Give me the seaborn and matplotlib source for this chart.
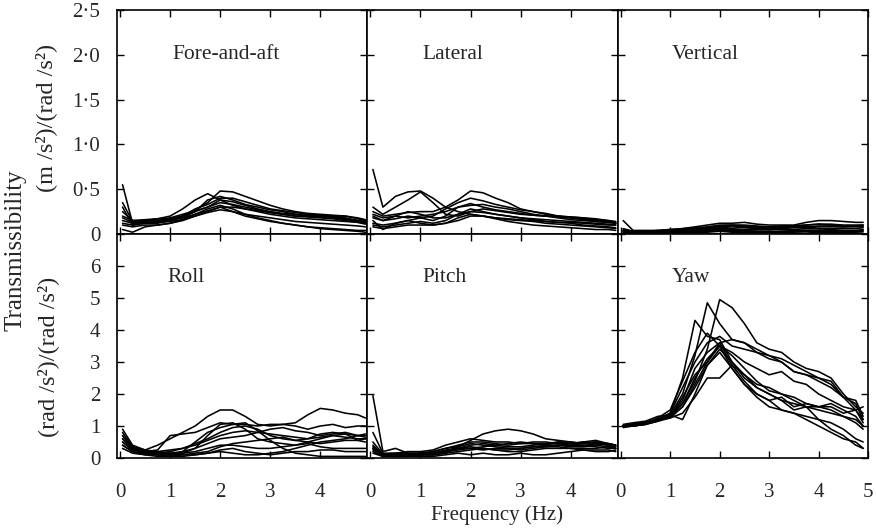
'''
Transmissibility of seat motion in six axes (12 subjects each), 2 x 3 panel figure
'''
import pandas as pd
import matplotlib.pyplot as plt
import seaborn as sns

freq = [0.05, 0.25, 0.5, 0.75, 1.0, 1.25, 1.5, 1.75, 2.0, 2.25, 2.5,
        2.75, 3.0, 3.25, 3.5, 3.75, 4.0, 4.25, 4.5, 4.75, 4.9]

fore_aft = [
    [0.2, 0.15, 0.15, 0.17, 0.2, 0.28, 0.38, 0.45, 0.38, 0.32, 0.28, 0.25, 0.22, 0.2, 0.18, 0.17, 0.16, 0.15, 0.14, 0.13, 0.12],
    [0.55, 0.12, 0.13, 0.14, 0.16, 0.2, 0.27, 0.35, 0.48, 0.47, 0.42, 0.37, 0.32, 0.28, 0.25, 0.23, 0.22, 0.21, 0.2, 0.17, 0.15],
    [0.3, 0.1, 0.12, 0.12, 0.15, 0.18, 0.25, 0.38, 0.42, 0.38, 0.33, 0.3, 0.27, 0.25, 0.22, 0.2, 0.2, 0.2, 0.18, 0.15, 0.14],
    [0.15, 0.12, 0.13, 0.15, 0.17, 0.2, 0.25, 0.3, 0.38, 0.36, 0.32, 0.28, 0.25, 0.23, 0.22, 0.21, 0.2, 0.19, 0.17, 0.15, 0.13],
    [0.1, 0.08, 0.1, 0.1, 0.12, 0.15, 0.2, 0.25, 0.3, 0.25, 0.2, 0.17, 0.14, 0.12, 0.1, 0.08, 0.07, 0.06, 0.05, 0.04, 0.04],
    [0.05, 0.02, 0.08, 0.1, 0.12, 0.16, 0.22, 0.28, 0.32, 0.28, 0.22, 0.18, 0.15, 0.12, 0.1, 0.08, 0.06, 0.05, 0.04, 0.03, 0.02],
    [0.25, 0.15, 0.16, 0.17, 0.18, 0.22, 0.26, 0.3, 0.35, 0.33, 0.3, 0.27, 0.24, 0.22, 0.2, 0.19, 0.18, 0.17, 0.15, 0.13, 0.11],
    [0.18, 0.13, 0.14, 0.15, 0.16, 0.18, 0.22, 0.26, 0.3, 0.3, 0.28, 0.26, 0.24, 0.22, 0.2, 0.2, 0.19, 0.18, 0.16, 0.14, 0.12],
    [0.12, 0.1, 0.12, 0.13, 0.14, 0.16, 0.2, 0.24, 0.27, 0.25, 0.22, 0.2, 0.18, 0.16, 0.14, 0.13, 0.12, 0.11, 0.1, 0.09, 0.08],
    [0.35, 0.14, 0.15, 0.15, 0.17, 0.2, 0.28, 0.33, 0.4, 0.4, 0.36, 0.32, 0.28, 0.26, 0.24, 0.22, 0.21, 0.2, 0.2, 0.18, 0.16],
]

lateral = [
    [0.72, 0.3, 0.42, 0.47, 0.48, 0.4, 0.3, 0.25, 0.22, 0.2, 0.18, 0.17, 0.16, 0.15, 0.14, 0.13, 0.13, 0.12, 0.11, 0.1, 0.1],
    [0.3, 0.22, 0.3, 0.38, 0.47, 0.35, 0.22, 0.2, 0.25, 0.24, 0.22, 0.2, 0.18, 0.17, 0.16, 0.15, 0.14, 0.13, 0.12, 0.11, 0.1],
    [0.25, 0.2, 0.22, 0.24, 0.25, 0.25, 0.3, 0.38, 0.48, 0.46, 0.4, 0.35, 0.28, 0.25, 0.22, 0.2, 0.19, 0.18, 0.16, 0.15, 0.13],
    [0.15, 0.05, 0.12, 0.15, 0.18, 0.2, 0.28, 0.35, 0.4, 0.37, 0.33, 0.3, 0.27, 0.25, 0.23, 0.2, 0.18, 0.17, 0.15, 0.14, 0.12],
    [0.2, 0.15, 0.17, 0.2, 0.18, 0.15, 0.2, 0.3, 0.34, 0.3, 0.27, 0.25, 0.23, 0.21, 0.2, 0.19, 0.18, 0.16, 0.14, 0.13, 0.12],
    [0.1, 0.08, 0.1, 0.12, 0.14, 0.12, 0.15, 0.22, 0.28, 0.25, 0.22, 0.2, 0.18, 0.16, 0.14, 0.13, 0.12, 0.1, 0.09, 0.08, 0.07],
    [0.18, 0.15, 0.2, 0.25, 0.22, 0.18, 0.18, 0.22, 0.25, 0.28, 0.26, 0.24, 0.22, 0.21, 0.2, 0.2, 0.19, 0.18, 0.17, 0.15, 0.14],
    [0.12, 0.1, 0.12, 0.15, 0.12, 0.1, 0.12, 0.15, 0.2, 0.2, 0.18, 0.16, 0.15, 0.14, 0.12, 0.11, 0.1, 0.09, 0.08, 0.07, 0.06],
    [0.22, 0.18, 0.2, 0.18, 0.2, 0.22, 0.25, 0.3, 0.32, 0.33, 0.3, 0.28, 0.25, 0.22, 0.2, 0.18, 0.16, 0.15, 0.14, 0.13, 0.12],
    [0.08, 0.06, 0.08, 0.1, 0.1, 0.1, 0.12, 0.18, 0.22, 0.2, 0.17, 0.14, 0.12, 0.1, 0.09, 0.08, 0.07, 0.06, 0.05, 0.05, 0.04],
]

vertical = [
    [0.15, 0.04, 0.04, 0.04, 0.05, 0.06, 0.08, 0.1, 0.12, 0.12, 0.13, 0.11, 0.1, 0.1, 0.1, 0.13, 0.15, 0.15, 0.14, 0.13, 0.13],
    [0.06, 0.03, 0.03, 0.04, 0.05, 0.06, 0.07, 0.08, 0.1, 0.1, 0.09, 0.08, 0.08, 0.08, 0.09, 0.1, 0.11, 0.11, 0.1, 0.1, 0.1],
    [0.04, 0.02, 0.02, 0.03, 0.03, 0.04, 0.05, 0.06, 0.07, 0.08, 0.07, 0.06, 0.06, 0.06, 0.07, 0.07, 0.08, 0.08, 0.08, 0.09, 0.09],
    [0.03, 0.02, 0.02, 0.02, 0.03, 0.03, 0.04, 0.05, 0.06, 0.06, 0.05, 0.05, 0.05, 0.05, 0.05, 0.06, 0.06, 0.06, 0.06, 0.06, 0.07],
    [0.02, 0.01, 0.01, 0.02, 0.02, 0.02, 0.03, 0.03, 0.04, 0.05, 0.04, 0.03, 0.03, 0.03, 0.04, 0.04, 0.04, 0.05, 0.04, 0.04, 0.05],
    [0.05, 0.03, 0.03, 0.03, 0.04, 0.05, 0.06, 0.07, 0.09, 0.1, 0.1, 0.09, 0.08, 0.09, 0.09, 0.1, 0.11, 0.1, 0.09, 0.09, 0.1],
    [0.03, 0.02, 0.02, 0.02, 0.03, 0.04, 0.04, 0.05, 0.05, 0.04, 0.04, 0.03, 0.03, 0.02, 0.02, 0.03, 0.03, 0.03, 0.02, 0.02, 0.03],
    [0.01, 0.01, 0.01, 0.01, 0.01, 0.02, 0.02, 0.02, 0.03, 0.02, 0.02, 0.02, 0.02, 0.02, 0.01, 0.01, 0.02, 0.02, 0.01, 0.01, 0.01],
    [0.04, 0.03, 0.03, 0.03, 0.03, 0.04, 0.05, 0.06, 0.08, 0.09, 0.08, 0.07, 0.07, 0.07, 0.08, 0.08, 0.09, 0.09, 0.08, 0.08, 0.08],
    [0.02, 0.02, 0.02, 0.02, 0.02, 0.03, 0.03, 0.04, 0.04, 0.03, 0.03, 0.02, 0.02, 0.03, 0.03, 0.04, 0.04, 0.04, 0.03, 0.03, 0.04],
]

roll = [
    [0.9, 0.4, 0.25, 0.4, 0.6, 0.8, 1.0, 1.3, 1.5, 1.5, 1.3, 1.05, 1.0, 1.05, 1.1, 1.35, 1.55, 1.5, 1.4, 1.35, 1.25],
    [0.7, 0.3, 0.2, 0.25, 0.7, 0.75, 0.8, 0.95, 1.1, 1.05, 1.05, 1.0, 1.05, 1.05, 1.0, 0.9, 1.0, 1.05, 0.95, 1.0, 1.0],
    [0.5, 0.25, 0.15, 0.1, 0.1, 0.15, 0.3, 0.7, 1.05, 1.1, 0.9, 0.6, 0.5, 0.45, 0.4, 0.5, 0.6, 0.7, 0.75, 0.7, 0.65],
    [0.6, 0.3, 0.2, 0.15, 0.1, 0.2, 0.5, 0.8, 0.95, 1.05, 1.1, 0.85, 0.55, 0.3, 0.15, 0.1, 0.05, 0.05, 0.05, 0.05, 0.05],
    [0.4, 0.2, 0.15, 0.15, 0.2, 0.3, 0.4, 0.55, 0.7, 0.8, 0.85, 0.8, 0.75, 0.7, 0.65, 0.6, 0.65, 0.7, 0.65, 0.6, 0.6],
    [0.8, 0.35, 0.2, 0.1, 0.05, 0.1, 0.15, 0.2, 0.35, 0.45, 0.5, 0.55, 0.6, 0.65, 0.55, 0.5, 0.45, 0.5, 0.55, 0.55, 0.6],
    [0.3, 0.15, 0.1, 0.1, 0.15, 0.15, 0.2, 0.3, 0.4, 0.4, 0.35, 0.3, 0.3, 0.35, 0.4, 0.45, 0.35, 0.3, 0.3, 0.3, 0.3],
    [0.5, 0.25, 0.2, 0.15, 0.1, 0.1, 0.1, 0.15, 0.2, 0.15, 0.1, 0.1, 0.15, 0.2, 0.3, 0.4, 0.5, 0.55, 0.6, 0.7, 0.75],
    [0.6, 0.3, 0.2, 0.2, 0.15, 0.2, 0.3, 0.45, 0.6, 0.65, 0.7, 0.8, 0.9, 0.95, 0.85, 0.8, 0.7, 0.75, 0.8, 0.7, 0.7],
    [0.4, 0.2, 0.1, 0.05, 0.05, 0.05, 0.1, 0.15, 0.25, 0.3, 0.2, 0.15, 0.1, 0.15, 0.2, 0.2, 0.25, 0.25, 0.2, 0.2, 0.2],
    [0.7, 0.35, 0.25, 0.2, 0.25, 0.3, 0.45, 0.6, 0.8, 0.95, 1.0, 0.9, 0.7, 0.6, 0.55, 0.6, 0.75, 0.8, 0.75, 0.55, 0.5],
]

pitch = [
    [1.95, 0.2, 0.3, 0.15, 0.15, 0.2, 0.3, 0.35, 0.55, 0.75, 0.85, 0.9, 0.85, 0.75, 0.6, 0.55, 0.5, 0.45, 0.5, 0.45, 0.4],
    [0.8, 0.15, 0.15, 0.2, 0.2, 0.25, 0.4, 0.5, 0.6, 0.55, 0.5, 0.5, 0.45, 0.5, 0.5, 0.45, 0.45, 0.5, 0.45, 0.4, 0.35],
    [0.4, 0.1, 0.1, 0.15, 0.15, 0.2, 0.3, 0.4, 0.5, 0.5, 0.45, 0.4, 0.45, 0.45, 0.4, 0.4, 0.4, 0.45, 0.5, 0.4, 0.35],
    [0.3, 0.05, 0.1, 0.1, 0.15, 0.15, 0.2, 0.3, 0.4, 0.45, 0.4, 0.35, 0.35, 0.4, 0.45, 0.45, 0.4, 0.4, 0.35, 0.3, 0.3],
    [0.2, 0.05, 0.05, 0.1, 0.1, 0.1, 0.15, 0.2, 0.25, 0.3, 0.25, 0.2, 0.2, 0.25, 0.3, 0.3, 0.3, 0.25, 0.25, 0.25, 0.2],
    [0.25, 0.1, 0.05, 0.05, 0.1, 0.1, 0.2, 0.35, 0.45, 0.4, 0.35, 0.3, 0.3, 0.35, 0.4, 0.5, 0.5, 0.45, 0.4, 0.45, 0.4],
    [0.15, 0.05, 0.05, 0.05, 0.05, 0.05, 0.1, 0.15, 0.1, 0.15, 0.1, 0.1, 0.15, 0.1, 0.1, 0.15, 0.2, 0.25, 0.2, 0.2, 0.25],
    [0.3, 0.1, 0.1, 0.1, 0.15, 0.15, 0.25, 0.3, 0.3, 0.35, 0.4, 0.45, 0.5, 0.45, 0.45, 0.5, 0.45, 0.5, 0.55, 0.45, 0.4],
    [0.5, 0.12, 0.15, 0.1, 0.1, 0.15, 0.2, 0.25, 0.3, 0.25, 0.3, 0.3, 0.25, 0.3, 0.35, 0.35, 0.3, 0.3, 0.3, 0.35, 0.3],
    [0.35, 0.08, 0.1, 0.1, 0.1, 0.1, 0.15, 0.3, 0.35, 0.3, 0.25, 0.25, 0.3, 0.35, 0.35, 0.4, 0.35, 0.35, 0.4, 0.35, 0.3],
]

yaw = [
    [1.0, 1.05, 1.1, 1.2, 1.35, 1.7, 2.4, 3.4, 4.95, 4.7, 4.2, 3.6, 3.4, 3.3, 3.0, 2.8, 2.7, 2.5, 2.0, 1.6, 1.4],
    [1.0, 1.0, 1.1, 1.2, 1.35, 2.0, 3.2, 4.85, 4.2, 3.7, 3.6, 3.4, 3.2, 3.1, 2.9, 2.7, 2.5, 2.4, 1.9, 1.8, 1.3],
    [1.0, 1.05, 1.1, 1.2, 1.4, 2.5, 4.3, 3.8, 3.7, 3.0, 2.6, 2.3, 2.2, 2.0, 1.9, 1.7, 1.6, 1.5, 1.3, 1.1, 0.9],
    [1.0, 1.05, 1.1, 1.25, 1.5, 2.4, 3.3, 3.9, 3.5, 2.8, 2.3, 2.0, 1.8, 1.5, 1.4, 1.2, 1.0, 0.8, 0.6, 0.5, 0.3],
    [1.0, 1.05, 1.1, 1.2, 1.3, 1.6, 2.3, 3.0, 3.6, 3.7, 3.6, 3.3, 3.2, 3.0, 2.7, 2.6, 2.5, 2.3, 1.9, 1.7, 1.2],
    [1.0, 1.0, 1.05, 1.15, 1.3, 1.7, 2.5, 3.1, 3.5, 3.3, 3.0, 2.8, 2.6, 2.7, 2.4, 2.3, 2.0, 1.8, 1.6, 1.5, 1.1],
    [1.05, 1.1, 1.15, 1.3, 1.35, 1.2, 2.0, 2.9, 3.4, 3.0, 2.5, 2.2, 2.0, 1.8, 1.7, 1.6, 1.5, 1.4, 1.3, 1.2, 1.0],
    [1.0, 1.05, 1.1, 1.2, 1.25, 1.4, 1.9, 2.5, 2.5, 2.9, 2.6, 2.2, 2.0, 1.8, 1.5, 1.6, 1.2, 1.1, 0.9, 0.6, 0.5],
    [0.95, 1.0, 1.1, 1.2, 1.3, 1.8, 2.8, 3.3, 3.6, 2.9, 2.4, 2.0, 1.8, 1.9, 1.6, 1.7, 1.6, 1.6, 1.4, 1.5, 1.2],
    [1.0, 1.0, 1.05, 1.2, 1.3, 1.9, 2.6, 3.0, 3.5, 3.2, 2.8, 2.4, 2.1, 2.0, 1.8, 1.6, 1.6, 1.7, 1.5, 1.3, 1.0],
    [1.0, 1.05, 1.1, 1.2, 1.4, 2.2, 3.0, 3.6, 3.8, 3.5, 3.4, 3.3, 3.1, 3.0, 2.7, 2.6, 2.4, 2.2, 1.9, 1.5, 1.6],
    [1.0, 1.0, 1.05, 1.15, 1.25, 1.6, 2.2, 2.9, 3.3, 2.8, 2.3, 1.9, 1.6, 1.5, 1.4, 1.3, 1.2, 0.9, 0.7, 0.4, 0.3],
]

panel_names = ['Fore-and-aft', 'Lateral', 'Vertical', 'Roll', 'Pitch', 'Yaw']
panel_data = [fore_aft, lateral, vertical, roll, pitch, yaw]

top_yticks = [0, 0.5, 1.0, 1.5, 2.0, 2.5]
top_ylabels = ['0', '0·5', '1·0', '1·5', '2·0', '2·5']
bottom_yticks = [0, 1, 2, 3, 4, 5, 6, 7]
bottom_ylabels = ['0', '1', '2', '3', '4', '5', '6', '']


def to_long(curves):
    '''
    turn a list of subject curves into a long dataframe for seaborn
    '''
    rows = []
    for s, curve in enumerate(curves):
        for f, v in zip(freq, curve):
            rows.append({'subject': s, 'freq': f, 'value': v})
    return pd.DataFrame(rows)


sns.set_style('ticks')
plt.rcParams['font.family'] = ['Liberation Serif', 'DejaVu Serif']

fig, axes = plt.subplots(2, 3, figsize=(8.76, 5.28), dpi=100)
fig.subplots_adjust(left=0.1336, right=0.991, top=0.981, bottom=0.1326,
                    wspace=0, hspace=0)

for i, ax in enumerate(axes.flat):
    row, col = divmod(i, 3)
    df = to_long(panel_data[i])
    sns.lineplot(data=df, x='freq', y='value', units='subject', estimator=None,
                 color='black', lw=1.15, ax=ax, legend=False)

    if col == 2:
        ax.set_xlim(-0.06, 5.0)
        ax.set_xticks([0, 1, 2, 3, 4, 5])
    else:
        ax.set_xlim(-0.06, 4.94)
        ax.set_xticks([0, 1, 2, 3, 4])

    if row == 0:
        ax.set_ylim(0, 2.5)
        ax.set_yticks(top_yticks)
        ax.set_yticklabels(top_ylabels)
        ax.text(1.04, 2.0, panel_names[i], fontsize=15.5, va='center', ha='left')
    else:
        ax.set_ylim(0, 7)
        ax.set_yticks(bottom_yticks)
        ax.set_yticklabels(bottom_ylabels)
        ax.text(0.95 if col == 0 else 1.03, 5.64, panel_names[i], fontsize=15.5,
                va='center', ha='left')

    ax.tick_params(direction='in', length=5, width=1.0, top=True, right=True,
                   labelsize=15, color='black')
    ax.tick_params(axis='y', pad=12)
    ax.tick_params(axis='x', pad=18)
    if col != 0:
        ax.tick_params(labelleft=False)
    if row == 0:
        ax.tick_params(labelbottom=False)
    ax.set_xlabel('')
    ax.set_ylabel('')
    for sp in ax.spines.values():
        sp.set_linewidth(1.2)
        sp.set_color('black')

fig.text(16 / 876, 1 - 250 / 528, 'Transmissibility', rotation=90,
         ha='center', va='center', fontsize=18)
fig.text(46 / 876, 1 - 118 / 528, '(m /s²)/(rad /s²)', rotation=90,
         ha='center', va='center', fontsize=17.5)
fig.text(48 / 876, 1 - 357 / 528, '(rad /s²)/(rad /s²)', rotation=90,
         ha='center', va='center', fontsize=17.5)
fig.text(497 / 876, 1 - 515 / 528, 'Frequency (Hz)', ha='center', va='center',
         fontsize=15)

plt.savefig('out.png', dpi=100)
